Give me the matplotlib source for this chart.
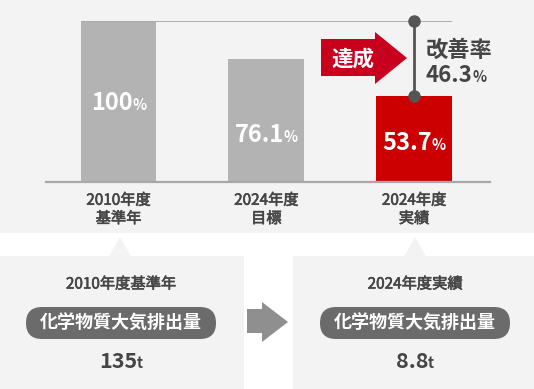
import matplotlib
matplotlib.use("Agg")
import matplotlib.pyplot as plt
import matplotlib.transforms as mtransforms
import matplotlib.patheffects as pe
from matplotlib.patches import Rectangle, Polygon, FancyBboxPatch

plt.rcParams['font.family'] = ['Noto Sans CJK JP', 'DejaVu Sans']

# data
categories = ["2010年度\n基準年", "2024年度\n目標", "2024年度\n実績"]
values = [100, 76.1, 53.7]
bar_colors = ["#b3b3b3", "#b3b3b3", "#cc0000"]
label_base = [44.7, 24.9, 19.9]   # baseline of the value labels, in % units

box_titles = ["2010年度基準年", "2024年度実績"]
pill_text = "化学物質大気排出量"
amounts = ["135", "8.8"]
amount_unit = "t"

BG = "#f3f3f3"
DARK = "#454545"
# fake "medium" weight: regular glyphs with a thin outline
medium = [pe.withStroke(linewidth=0.45, foreground=DARK)]

fig = plt.figure(figsize=(5.34, 3.89), dpi=100)
renderer = fig.canvas.get_renderer()

# background axes in pixel coordinates
bg = fig.add_axes([0, 0, 1, 1])
bg.set_xlim(0, 534)
bg.set_ylim(389, 0)
bg.axis("off")
bg.add_patch(Rectangle((0, 0), 534, 233, color=BG, lw=0))


def split_label(ax, x, y, main, unit, size, usize, color, weight="bold", ha="center"):
    t1 = ax.text(x, y, main, size=size, color=color, weight=weight, ha="left", va="baseline")
    t2 = ax.text(x, y, unit, size=usize, color=color, weight=weight, ha="left", va="baseline")
    w1 = t1.get_window_extent(renderer).width
    w2 = t2.get_window_extent(renderer).width
    dx = -(w1 + w2) / 2 if ha == "center" else 0
    t1.set_transform(mtransforms.offset_copy(ax.transData, fig=fig, x=dx * 72 / fig.dpi, units="points"))
    t2.set_transform(mtransforms.offset_copy(ax.transData, fig=fig, x=(dx + w1) * 72 / fig.dpi, units="points"))


# bar chart axes: baseline at y=182px, 100% at y=21px
ax = fig.add_axes([46 / 534, (389 - 182) / 389, 444 / 534, 161 / 389])
ax.set_facecolor("none")
x = list(range(len(values)))
width = 0.514
ax.bar(x, values, width=width, color=bar_colors, zorder=1)
ax.set_xlim(-0.4907, 2.514)
ax.set_ylim(0, 100)
for s in ["top", "left", "right"]:
    ax.spines[s].set_visible(False)
ax.spines["bottom"].set_color("#a8a8a8")
ax.spines["bottom"].set_linewidth(1.6)
ax.set_yticks([])
ax.set_xticks(x, categories)
ax.tick_params(axis="x", length=0, pad=7, labelsize=11, labelcolor=DARK)
for lab in ax.get_xticklabels():
    lab.set_linespacing(1.1)
    lab.set_path_effects(medium)

ax.hlines(values[0], x[0] - width / 2, x[-1] + width / 2, color="#a8a8a8", lw=1.3, zorder=2)

for xi, v, yb in zip(x, values, label_base):
    txt = f"{v:g}" if v == 100 else f"{v:.1f}"
    split_label(ax, xi, yb, txt, "%", 17, 10.5, "white")

# improvement bracket
ax.plot([x[-1], x[-1]], [values[-1], values[0]], color="#555555", lw=2,
        marker="o", ms=8, clip_on=False, zorder=4)

bg.text(426, 50, "改善率", size=16, weight="bold", color=DARK, ha="left", va="center")
split_label(bg, 426, 82, f"{values[0] - values[-1]:.1f}", "%", 16, 10.5, DARK, ha="left")

# 達成 arrow
bg.add_patch(Polygon([(321, 39), (375, 39), (375, 32), (407, 58), (375, 84), (375, 76), (321, 76)],
                     closed=True, color="#c8001e", lw=0))
bg.text(353, 59, "達成", size=15.5, weight="bold", color="white", ha="center", va="center")

# lower boxes
for bx, bw, cx in [(0, 243.5, 120), (293, 241, 415)]:
    bg.add_patch(Rectangle((bx, 256), bw, 133, color=BG, lw=0))
    bg.add_patch(Polygon([(cx - 11, 256.5), (cx, 237), (cx + 11, 256.5)], closed=True, color=BG, lw=0))

for cx, title, amt in zip([121, 415], box_titles, amounts):
    bg.text(cx, 284, title, size=11, color=DARK, ha="center", va="center", path_effects=medium)
    bg.add_patch(FancyBboxPatch((cx - 95, 307), 190, 32,
                                boxstyle="round,pad=0,rounding_size=16", color="#6b6b6b", lw=0))
    bg.text(cx, 323.5, pill_text, size=13, weight="bold", color="white", ha="center", va="center")
    split_label(bg, cx, 368, amt, amount_unit, 15.5, 10.5, DARK, weight="bold")

# grey arrow between boxes
bg.add_patch(Polygon([(247, 309), (262, 309), (262, 302), (288, 322), (262, 342), (262, 333), (247, 333)],
                     closed=True, color="#8f8f8f", lw=0))

fig.savefig("out.png", dpi=100)
